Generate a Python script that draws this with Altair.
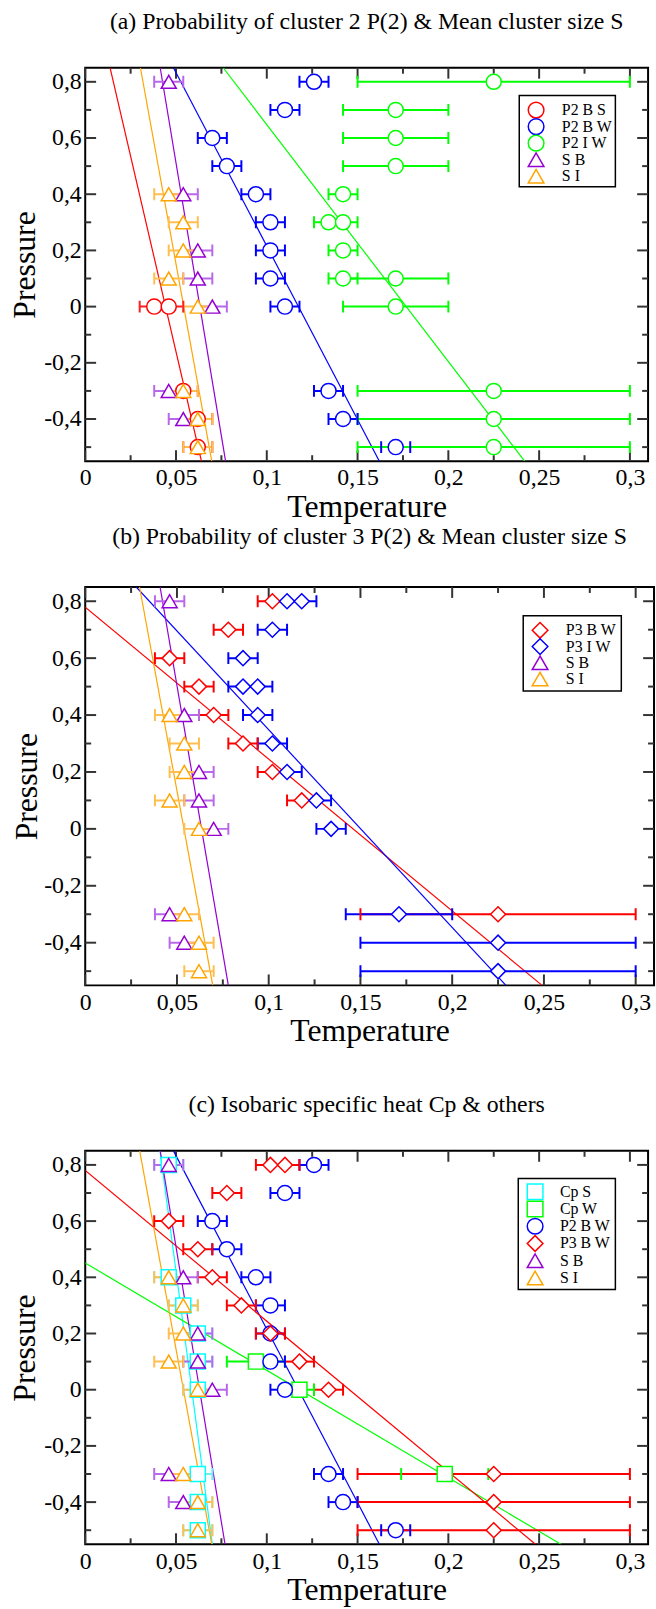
import altair as alt
import pandas as pd

FONT = "Liberation Serif"
XDOM = [0, 0.31]
YDOM = [-0.55, 0.85]
X_MAJOR = [0, 0.05, 0.1, 0.15, 0.2, 0.25, 0.3]
X_MINOR = [0.025, 0.075, 0.125, 0.175, 0.225, 0.275]
Y_MAJOR = [-0.4, -0.2, 0, 0.2, 0.4, 0.6, 0.8]
Y_MINOR = [-0.5, -0.3, -0.1, 0.1, 0.3, 0.5, 0.7]

TITLE_A = "(a) Probability of cluster 2 P(2) & Mean cluster size S"
TITLE_B = "(b) Probability of cluster 3 P(2) & Mean cluster size S"
TITLE_C = "(c) Isobaric specific heat Cp & others"

COLORS = {"P2 B S": "#ff0000", "P2 B W": "#0000ff", "P2 I W": "#00ff00",
          "S B": "#9400d3", "S I": "#ffa500", "P3 B W": "#ff0000",
          "P3 I W": "#0000ff", "Cp S": "#00ffff", "Cp W": "#00ff00"}
ERR_COLORS = {"P2 B S": "#ff2020", "P2 B W": "#0000ff", "P2 I W": "#00ff00",
              "S B": "#b868e8", "S I": "#ffbf50", "P3 B W": "#ff0000",
              "P3 I W": "#0000ff", "Cp S": "#70eef4", "Cp W": "#00ff00"}
SHAPES = {"P2 B S": "circle", "P2 B W": "circle", "P2 I W": "circle",
          "S B": "triangle-up", "S I": "triangle-up", "P3 B W": "diamond",
          "P3 I W": "diamond", "Cp S": "square", "Cp W": "square"}

# ---------- panel (a) ----------
A_P2BS_Y = [0, 0, -0.3, -0.4, -0.5]
A_P2BS_X = [0.038, 0.046, 0.054, 0.062, 0.062]
A_P2BS_LO = [0.030, 0.038, 0.046, 0.054, 0.054]
A_P2BS_HI = [0.045, 0.054, 0.062, 0.070, 0.070]

P2BW_Y = [0.8, 0.7, 0.6, 0.5, 0.4, 0.3, 0.2, 0.1, 0, -0.3, -0.4, -0.5]
P2BW_X = [0.126, 0.110, 0.070, 0.078, 0.094, 0.102, 0.102, 0.102, 0.110, 0.134, 0.142, 0.171]
P2BW_LO = [0.118, 0.102, 0.062, 0.070, 0.086, 0.094, 0.094, 0.094, 0.102, 0.126, 0.134, 0.163]
P2BW_HI = [0.134, 0.118, 0.078, 0.086, 0.102, 0.110, 0.110, 0.110, 0.118, 0.142, 0.150, 0.179]

A_P2IW_Y = [0.8, 0.7, 0.6, 0.5, 0.4, 0.3, 0.3, 0.2, 0.1, 0.1, 0, -0.3, -0.4, -0.5]
A_P2IW_X = [0.225, 0.171, 0.171, 0.171, 0.142, 0.134, 0.142, 0.142, 0.142, 0.171, 0.171, 0.225, 0.225, 0.225]
A_P2IW_LO = [0.150, 0.142, 0.142, 0.142, 0.134, 0.126, 0.134, 0.134, 0.134, 0.142, 0.142, 0.150, 0.150, 0.150]
A_P2IW_HI = [0.300, 0.200, 0.200, 0.200, 0.150, 0.142, 0.150, 0.150, 0.150, 0.200, 0.200, 0.300, 0.300, 0.300]

S_B_Y = [0.8, 0.4, 0.2, 0.1, 0, -0.3, -0.4]
S_B_X = [0.046, 0.054, 0.062, 0.062, 0.070, 0.046, 0.054]
S_B_LO = [0.038, 0.046, 0.054, 0.054, 0.062, 0.038, 0.046]
S_B_HI = [0.054, 0.062, 0.070, 0.070, 0.078, 0.054, 0.062]

S_I_Y = [0.4, 0.3, 0.2, 0.1, 0, -0.3, -0.4, -0.5]
S_I_X = [0.046, 0.054, 0.054, 0.046, 0.062, 0.054, 0.062, 0.062]
S_I_LO = [0.038, 0.046, 0.046, 0.038, 0.054, 0.046, 0.054, 0.054]
S_I_HI = [0.054, 0.062, 0.062, 0.054, 0.070, 0.062, 0.070, 0.070]

A_FIT_SERIES = ["P2 B S", "P2 B W", "P2 I W", "S B", "S I"]
A_FIT_X0 = [0.0137, 0.0486, 0.076, 0.0413, 0.0304]
A_FIT_Y0 = [0.85, 0.85, 0.85, 0.85, 0.85]
A_FIT_X1 = [0.064, 0.162, 0.242, 0.0773, 0.0697]
A_FIT_Y1 = [-0.55, -0.55, -0.55, -0.55, -0.55]

# ---------- panel (b) ----------
B_P3BW_Y = [0.8, 0.7, 0.6, 0.5, 0.4, 0.3, 0.2, 0.1, -0.3]
B_P3BW_X = [0.102, 0.078, 0.046, 0.062, 0.070, 0.086, 0.102, 0.118, 0.225]
B_P3BW_LO = [0.094, 0.070, 0.038, 0.054, 0.062, 0.078, 0.094, 0.110, 0.150]
B_P3BW_HI = [0.110, 0.086, 0.054, 0.070, 0.078, 0.094, 0.110, 0.126, 0.300]

B_P3IW_Y = [0.8, 0.8, 0.7, 0.6, 0.5, 0.5, 0.4, 0.3, 0.2, 0.1, 0, -0.3, -0.4, -0.5]
B_P3IW_X = [0.110, 0.118, 0.102, 0.086, 0.086, 0.094, 0.094, 0.102, 0.110, 0.126, 0.134, 0.171, 0.225, 0.225]
B_P3IW_LO = [0.102, 0.110, 0.094, 0.078, 0.078, 0.086, 0.086, 0.094, 0.102, 0.118, 0.126, 0.142, 0.150, 0.150]
B_P3IW_HI = [0.118, 0.126, 0.110, 0.094, 0.094, 0.102, 0.102, 0.110, 0.118, 0.134, 0.142, 0.200, 0.300, 0.300]

B_FIT_SERIES = ["P3 B W", "P3 I W", "S B", "S I"]
B_FIT_X0 = [0, 0.0278, 0.0408, 0.0296]
B_FIT_Y0 = [0.779, 0.85, 0.85, 0.85]
B_FIT_X1 = [0.249, 0.2293, 0.078, 0.0695]
B_FIT_Y1 = [-0.55, -0.55, -0.55, -0.55]

# ---------- panel (c) ----------
C_CPS_Y = [0.8, 0.4, 0.3, 0.2, 0.1, 0, -0.3, -0.4, -0.5]
C_CPS_X = [0.046, 0.046, 0.054, 0.062, 0.062, 0.062, 0.062, 0.062, 0.062]
C_CPS_LO = [0.038, 0.038, 0.046, 0.054, 0.054, 0.054, 0.054, 0.054, 0.054]
C_CPS_HI = [0.054, 0.054, 0.062, 0.070, 0.070, 0.070, 0.070, 0.070, 0.070]

C_CPW_Y = [0.1, 0, -0.3]
C_CPW_X = [0.094, 0.118, 0.198]
C_CPW_LO = [0.078, 0.110, 0.174]
C_CPW_HI = [0.110, 0.126, 0.222]

C_P3BW_Y = [0.8, 0.8, 0.7, 0.6, 0.5, 0.4, 0.3, 0.2, 0.1, 0, -0.3, -0.4, -0.5]
C_P3BW_X = [0.102, 0.110, 0.078, 0.046, 0.062, 0.070, 0.086, 0.102, 0.118, 0.134, 0.225, 0.225, 0.225]
C_P3BW_LO = [0.094, 0.102, 0.070, 0.038, 0.054, 0.062, 0.078, 0.094, 0.110, 0.126, 0.150, 0.150, 0.150]
C_P3BW_HI = [0.110, 0.118, 0.086, 0.054, 0.070, 0.078, 0.094, 0.110, 0.126, 0.142, 0.300, 0.300, 0.300]

C_FIT_SERIES = ["Cp S", "Cp W", "P2 B W", "P3 B W", "S B", "S I"]
C_FIT_X0 = [0.0412, 0, 0.0486, 0, 0.0413, 0.030]
C_FIT_Y0 = [0.85, 0.451, 0.85, 0.78, 0.85, 0.85]
C_FIT_X1 = [0.070, 0.262, 0.162, 0.248, 0.077, 0.0697]
C_FIT_Y1 = [-0.55, -0.55, -0.55, -0.55, -0.55, -0.55]

LABEL_EXPR = "(datum.value < 0 ? '-' : '') + replace(format(abs(datum.value), '.2~f'), '.', ',')"


def make_axes(ytp):
    xaxis = alt.Axis(values=X_MAJOR, labelExpr=LABEL_EXPR, title="Temperature", grid=False,
                     domain=False, ticks=False, tickSize=0, labelPadding=5, titlePadding=2,
                     labelFont=FONT, labelFontSize=24, labelColor="black", titleFont=FONT,
                     titleFontSize=32, titleFontWeight="normal", titleColor="black",
                     labelOverlap=False, labelFlush=False, labelBound=False)
    yaxis = alt.Axis(values=Y_MAJOR, labelExpr=LABEL_EXPR, title="Pressure", grid=False,
                     domain=False, ticks=False, tickSize=0, labelPadding=4, titlePadding=ytp,
                     labelFont=FONT, labelFontSize=24, labelColor="black", titleFont=FONT,
                     titleFontSize=32, titleFontWeight="normal", titleColor="black",
                     labelOverlap=False, labelFlush=False, labelBound=False)
    return xaxis, yaxis


def panel(title, series, fits, W, H, box, sx, tx, ry0, dy, toff, ytp):
    xaxis, yaxis = make_axes(ytp)

    def xs(field):
        return alt.X(field, type="quantitative", scale=alt.Scale(domain=XDOM, nice=False, zero=False), axis=xaxis)

    def ys(field):
        return alt.Y(field, type="quantitative", scale=alt.Scale(domain=YDOM, nice=False, zero=False), axis=yaxis)

    rows = []
    for name, yv, xv, lo, hi in series:
        for a, b, c, d in zip(yv, xv, lo, hi):
            rows.append({"series": name, "y": a, "x": b, "lo": c, "hi": d, "ecol": ERR_COLORS[name]})
    pts = pd.DataFrame(rows)
    frows = []
    for name, x0, y0, x1, y1 in zip(*fits):
        frows.append({"series": name, "x": x0, "y": y0, "col": COLORS[name]})
        frows.append({"series": name, "x": x1, "y": y1, "col": COLORS[name]})
    fdf = pd.DataFrame(frows)
    names = [s[0] for s in series]

    layers = []
    tcol = "#333333"
    xmaj = pd.DataFrame({"v": X_MAJOR})
    xmin = pd.DataFrame({"v": X_MINOR})
    ymaj = pd.DataFrame({"v": Y_MAJOR})
    ymin = pd.DataFrame({"v": Y_MINOR})
    for df, ln in ((xmaj, 11), (xmin, 6)):
        layers.append(alt.Chart(df).mark_rule(color=tcol, strokeWidth=2).encode(
            x=xs("v"), y=alt.value(H), y2=alt.value(H - ln)))
        layers.append(alt.Chart(df).mark_rule(color=tcol, strokeWidth=2).encode(
            x=xs("v"), y=alt.value(0), y2=alt.value(ln)))
    for df, ln in ((ymaj, 11), (ymin, 6)):
        layers.append(alt.Chart(df).mark_rule(color=tcol, strokeWidth=2).encode(
            y=ys("v"), x=alt.value(0), x2=alt.value(ln)))
        layers.append(alt.Chart(df).mark_rule(color=tcol, strokeWidth=2).encode(
            y=ys("v"), x=alt.value(W), x2=alt.value(W - ln)))

    layers.append(alt.Chart(fdf).mark_line(clip=True, strokeWidth=1.2).encode(
        x=xs("x"), y=ys("y"), color=alt.Color("col:N", scale=None), detail="series:N"))

    ebase = alt.Chart(pts)
    layers.append(ebase.mark_rule(strokeWidth=2, clip=True).encode(
        x=xs("lo"), x2="hi:Q", y=ys("y"), color=alt.Color("ecol:N", scale=None)))
    layers.append(ebase.mark_rule(strokeWidth=2, yOffset=-6, y2Offset=6, clip=True).encode(
        x=xs("lo"), y=ys("y"), y2="y:Q", color=alt.Color("ecol:N", scale=None)))
    layers.append(ebase.mark_rule(strokeWidth=2, yOffset=-6, y2Offset=6, clip=True).encode(
        x=xs("hi"), y=ys("y"), y2="y:Q", color=alt.Color("ecol:N", scale=None)))

    layers.append(ebase.mark_point(filled=False, fill="white", size=230, strokeWidth=1.5, opacity=1).encode(
        x=xs("x"), y=ys("y"),
        color=alt.Color("series:N", scale=alt.Scale(domain=names, range=[COLORS[n] for n in names]), legend=None),
        shape=alt.Shape("series:N", scale=alt.Scale(domain=names, range=[SHAPES[n] for n in names]), legend=None),
    ))

    # legend box drawn inside the plot
    bx, by, bw, bh = box
    one = pd.DataFrame({"k": [0]})
    layers.append(alt.Chart(one).mark_rect(fill="white", stroke="black", strokeWidth=1.5).encode(
        x=alt.value(bx), x2=alt.value(bx + bw), y=alt.value(by), y2=alt.value(by + bh)))
    for i, name in enumerate(names):
        cy = ry0 + i * dy
        ent = pd.DataFrame({"series": [name]})
        layers.append(alt.Chart(ent).mark_point(shape=SHAPES[name], filled=False, fill="white",
                                                color=COLORS[name], size=250, strokeWidth=1.5,
                                                opacity=1).encode(
            x=alt.value(sx), y=alt.value(cy)))
        layers.append(alt.Chart(ent).mark_text(align="left", baseline="middle", font=FONT,
                                               fontSize=16, color="black").encode(
            x=alt.value(tx), y=alt.value(cy), text="series:N"))

    return alt.layer(*layers).properties(
        width=W, height=H,
        title=alt.TitleParams(title, font=FONT, fontSize=24, fontWeight="normal", color="black",
                              anchor="middle", offset=toff))


pa = panel(TITLE_A,
           [("P2 B S", A_P2BS_Y, A_P2BS_X, A_P2BS_LO, A_P2BS_HI),
            ("P2 B W", P2BW_Y, P2BW_X, P2BW_LO, P2BW_HI),
            ("P2 I W", A_P2IW_Y, A_P2IW_X, A_P2IW_LO, A_P2IW_HI),
            ("S B", S_B_Y, S_B_X, S_B_LO, S_B_HI),
            ("S I", S_I_Y, S_I_X, S_I_LO, S_I_HI)],
           (A_FIT_SERIES, A_FIT_X0, A_FIT_Y0, A_FIT_X1, A_FIT_Y1),
           568, 397, (438, 28, 97, 92), 455, 481, 42.7, 16.7, 33, 2)
pb = panel(TITLE_B,
           [("P3 B W", B_P3BW_Y, B_P3BW_X, B_P3BW_LO, B_P3BW_HI),
            ("P3 I W", B_P3IW_Y, B_P3IW_X, B_P3IW_LO, B_P3IW_HI),
            ("S B", S_B_Y, S_B_X, S_B_LO, S_B_HI),
            ("S I", S_I_Y, S_I_X, S_I_LO, S_I_HI)],
           (B_FIT_SERIES, B_FIT_X0, B_FIT_Y0, B_FIT_X1, B_FIT_Y1),
           574, 402, (442, 29, 99, 76), 459, 485, 43.7, 16.4, 37, 0)
pc = panel(TITLE_C,
           [("Cp S", C_CPS_Y, C_CPS_X, C_CPS_LO, C_CPS_HI),
            ("Cp W", C_CPW_Y, C_CPW_X, C_CPW_LO, C_CPW_HI),
            ("P2 B W", P2BW_Y, P2BW_X, P2BW_LO, P2BW_HI),
            ("P3 B W", C_P3BW_Y, C_P3BW_X, C_P3BW_LO, C_P3BW_HI),
            ("S B", S_B_Y, S_B_X, S_B_LO, S_B_HI),
            ("S I", S_I_Y, S_I_X, S_I_LO, S_I_HI)],
           (C_FIT_SERIES, C_FIT_X0, C_FIT_Y0, C_FIT_X1, C_FIT_Y1),
           568, 397, (437, 28, 98, 112), 454, 479, 41.3, 17.4, 33, 2)

top = alt.vconcat(pa, pb, spacing=1).resolve_scale(color="independent", shape="independent")
chart = alt.vconcat(top, pc, spacing=45).resolve_scale(color="independent", shape="independent").properties(
    padding={"left": 8, "top": 2, "right": 0, "bottom": 0},
    background="white",
).configure_view(stroke="black", strokeWidth=2)

chart.save("out.html", embed_options={"renderer": "svg", "actions": False})
